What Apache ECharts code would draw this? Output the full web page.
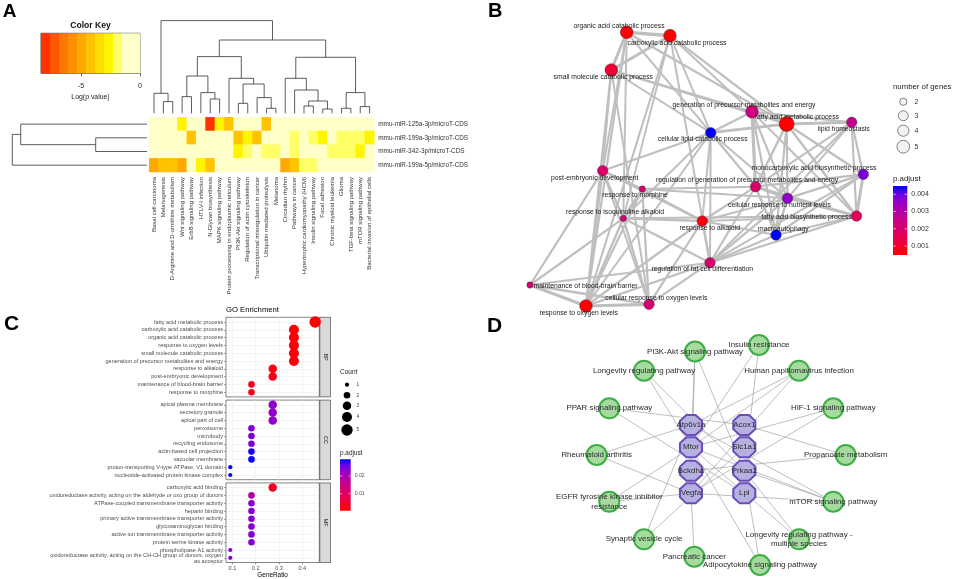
<!DOCTYPE html>
<html><head><meta charset="utf-8">
<script src="https://cdn.jsdelivr.net/npm/echarts@6/dist/echarts.min.js"></script>
<style>html,body{margin:0;padding:0;background:#fff}#c{width:955px;height:579px}</style>
</head><body><div id="c"></div>
<script>
// ================= DATA =================
// ---- Panel A: heatmap ----
const pathways = ['Basal cell carcinoma','Melanogenesis','D-Arginine and D-ornithine metabolism','Wnt signaling pathway','ErbB signaling pathway','HTLV-I infection','N-Glycan biosynthesis','MAPK signaling pathway','Protein processing in endoplasmic reticulum','PI3K-Akt signaling pathway','Regulation of actin cytoskeleton','Transcriptional misregulation in cancer','Ubiquitin mediated proteolysis','Melanoma','Circadian rhythm','Pathways in cancer','Hypertrophic cardiomyopathy (HCM)','Insulin signaling pathway','Focal adhesion','Chronic myeloid leukemia','Glioma','TGF-beta signaling pathway','mTOR signaling pathway','Bacterial invasion of epithelial cells'];
const mirnas = ['mmu-miR-125a-3p/microT-CDS','mmu-miR-199a-3p/microT-CDS','mmu-miR-342-3p/microT-CDS','mmu-miR-199a-5p/microT-CDS'];
const logP_miR125a3p = [-0.3,-0.3,-0.3,-2.6,-0.3,-0.3,-7.8,-2.6,-4.2,-0.3,-0.3,-0.3,-4.2,-0.3,-0.3,-0.3,-0.3,-0.3,-0.3,-0.3,-0.3,-0.3,-0.3,-0.3];
const logP_miR199a3p = [-0.3,-0.3,-0.3,-0.3,-4.2,-0.3,-0.3,-0.3,-0.3,-4.2,-2.6,-4.2,-0.3,-0.3,-0.3,-1.9,-0.3,-1.9,-2.6,-0.3,-1.9,-1.9,-1.9,-2.6];
const logP_miR342 = [-0.3,-0.3,-0.3,-0.3,-0.3,-0.3,-0.3,-0.3,-0.3,-2.6,-1.9,-0.3,-1.9,-1.9,-0.3,-1.9,-0.3,-0.3,-0.3,-1.9,-1.9,-1.9,-2.6,-0.3];
const logP_miR199a5p = [-5.0,-4.2,-4.2,-5.0,-0.3,-2.6,-4.2,-0.3,-0.3,-0.3,-0.3,-0.3,-0.3,-0.3,-5.0,-4.2,-1.9,-1.9,-0.3,-0.3,-0.3,-0.3,-0.3,-0.3];
const keyBreaks = [-8.4,-7.64,-6.87,-6.11,-5.35,-4.58,-3.82,-3.05,-2.29,-1.53,-0.76,0];
const keyTicks = [-5, 0];
// column dendrogram merges [a, b, height]; negative = leaf (column), positive = earlier merge
const colMerges = [[-2,-3,11.7],[-1,1,20],[-4,-5,16.7],[-7,-8,14.3],[-6,4,20.7],[3,5,37.3],[-10,-11,10],[-13,-14,5],[-12,8,15.7],[7,9,29.3],[-9,10,35],[6,11,56.7],[-17,-18,7.3],[-19,-20,4.3],[13,14,12.3],[-16,15,23.3],[-15,16,35],[-21,-22,5],[-23,-24,6.7],[18,19,20.7],[17,20,56],[12,21,73.3],[2,22,92.7]];
const rowMerges = [[-2,-3,51.3],[-1,1,126.3],[2,-4,134.7]];

// ---- Panel B: enrichment map ----
const bTerms = ['organic acid catabolic process','carboxylic acid catabolic process','small molecule catabolic process','generation of precursor metabolites and energy','fatty acid metabolic process','lipid homeostasis','cellular lipid catabolic process','post-embryonic development','response to morphine','regulation of generation of precursor metabolites and energy','monocarboxylic acid biosynthetic process','cellular response to nutrient levels','response to isoquinoline alkaloid','fatty acid biosynthetic process','response to alkaloid','macroautophagy','regulation of fat cell differentiation','maintenance of blood-brain barrier','cellular response to oxygen levels','response to oxygen levels'];
const bLayoutX = [146.7,190,131.3,272,306.7,371.7,230.7,122.7,162.3,275.5,383.3,307.5,143.3,376.5,222.3,296,230,50,169,106];
const bLayoutY = [32.3,35.7,70,111.7,124,122.3,132.7,170.7,189,186.7,174.3,198.3,218.3,216,221,235,262.7,285,304.3,306];
const bCount = [4,4,4,4,5,3,3,3,2,3,3,3,2,3,3,3,3,2,3,4];
const bPadj = [0.0005,0.0005,0.0011,0.0023,0.0005,0.0026,0.0045,0.0019,0.0019,0.0019,0.0039,0.0036,0.0021,0.0016,0.0006,0.0045,0.002,0.002,0.0021,0.0005];
const bEdges = [[0,1,1],[0,2,0.8],[1,2,0.8],[0,4,0.4],[1,4,0.4],[2,4,0.35],[0,6,0.3],[1,6,0.3],[2,6,0.3],[0,19,0.4],[1,19,0.35],[2,19,0.4],[0,7,0.3],[2,7,0.3],[0,12,0.3],[1,12,0.25],[1,16,0.3],[2,18,0.3],[1,3,0.3],[2,3,0.3],
[3,4,0.7],[3,6,0.5],[4,6,0.7],[4,5,0.8],[3,5,0.4],[3,9,0.9],[4,9,0.5],[4,10,0.5],[4,13,0.5],[4,11,0.4],[4,15,0.4],[3,11,0.4],[3,15,0.4],[3,13,0.3],
[5,10,0.4],[5,13,0.4],[5,11,0.3],[5,9,0.3],[5,16,0.3],[6,9,0.4],[6,11,0.3],[6,14,0.3],[6,16,0.3],[6,7,0.3],[6,12,0.3],
[10,13,0.8],[10,11,0.5],[10,9,0.4],[10,15,0.4],[10,16,0.3],[11,13,0.5],[11,9,0.6],[11,15,0.5],[13,15,0.4],[13,9,0.5],
[9,14,0.4],[9,15,0.5],[9,16,0.4],[9,8,0.3],[14,15,0.4],[14,16,0.5],[14,12,0.5],[14,8,0.5],[14,7,0.4],[14,19,0.4],[14,18,0.4],[14,11,0.3],[14,13,0.3],
[16,13,0.4],[16,15,0.4],[16,11,0.4],[16,19,0.4],[16,18,0.4],[16,12,0.4],[16,17,0.3],[12,8,0.8],[12,7,0.4],[12,19,0.5],[12,18,0.5],[12,17,0.4],[12,13,0.3],
[8,7,0.4],[8,19,0.4],[8,18,0.4],[8,11,0.3],[7,19,0.4],[7,17,0.4],[7,18,0.3],[17,19,0.8],[17,18,0.5],[18,19,0.9],[19,6,0.3]];
const bLegendCounts = [2,3,4,5];
const bPadjRange = [0.00048,0.00448];
const bPadjTicks = [0.001,0.002,0.003,0.004];

// ---- Panel C: GO dot plot ----
const bpTerms = ['fatty acid metabolic process','carboxylic acid catabolic process','organic acid catabolic process','response to oxygen levels','small molecule catabolic process','generation of precursor metabolites and energy','response to alkaloid','post-embryonic development','maintenance of blood-brain barrier','response to morphine'];
const bpRatio = [0.455,0.364,0.364,0.364,0.364,0.364,0.273,0.273,0.182,0.182];
const bpCount = [5,4,4,4,4,4,3,3,2,2];
const bpPadj = [0.0004,0.0008,0.0008,0.001,0.001,0.002,0.002,0.003,0.003,0.003];
const ccTerms = ['apical plasma membrane','secretory granule','apical part of cell','peroxisome','microbody','recycling endosome','actin-based cell projection','vacuolar membrane','proton-transporting V-type ATPase, V1 domain','nucleotide-activated protein kinase complex'];
const ccRatio = [0.273,0.273,0.273,0.182,0.182,0.182,0.182,0.182,0.091,0.091];
const ccCount = [3,3,3,2,2,2,2,2,1,1];
const ccPadj = [0.023,0.023,0.023,0.025,0.025,0.0252,0.0288,0.029,0.0292,0.0292];
const mfTerms = ['carboxylic acid binding','oxidoreductase activity, acting on the aldehyde or oxo group of donors','ATPase-coupled transmembrane transporter activity','heparin binding','primary active transmembrane transporter activity','glycosaminoglycan binding','active ion transmembrane transporter activity','protein serine kinase activity','phospholipase A1 activity','oxidoreductase activity, acting on the CH-CH group of donors, oxygen\nas acceptor'];
const mfRatio = [0.273,0.182,0.182,0.182,0.182,0.182,0.182,0.182,0.091,0.091];
const mfCount = [3,2,2,2,2,2,2,2,1,1];
const mfPadj = [0.004,0.018,0.0236,0.0236,0.0236,0.0236,0.0236,0.0236,0.0238,0.0242];
const geneRatioTicks = [0.1,0.2,0.3,0.4];
const geneRatioMinor = [0.15,0.25,0.35,0.45];
const rowSlots = [1,2,3,4,5,6,7,8,9,10];
const cPadjRange = [0.0004,0.0294];
const cPadjTicks = [0.01,0.02];
const cLegendCounts = [1,2,3,4,5];

// ---- Panel D: gene-pathway network ----
const dPathways = ['PI3K-Akt signaling pathway','Insulin resistance','Longevity regulating pathway','Human papillomavirus infection','PPAR signaling pathway','HIF-1 signaling pathway','Rheumatoid arthritis','Propanoate metabolism','EGFR tyrosine kinase inhibitor\nresistance','mTOR signaling pathway','Synaptic vesicle cycle','Longevity regulating pathway -\nmultiple species','Pancreatic cancer','Adipocytokine signaling pathway'];
const dPathX = [215,279,164,319,129.3,353.3,116.7,365.7,129.3,353.3,164,319,214.3,280];
const dPathY = [31.5,25,50.7,50.7,88.3,88.3,135,135,181.7,181.7,219.3,219.3,236.7,245];
const dGenes = ['Atp6v1a','Acox1','Mtor','Slc1a1','Bckdha','Prkaa2','Vegfa','Lpl'];
const dGeneX = [211,264.3,211,264.3,211,264.3,211,264.3];
const dGeneY = [105,105,127.3,127.3,150.7,150.7,173.3,173.3];
const dLinks = [[0,'Mtor'],[0,'Vegfa'],[0,'Prkaa2'],[1,'Mtor'],[1,'Prkaa2'],[2,'Mtor'],[2,'Prkaa2'],[3,'Atp6v1a'],[3,'Mtor'],[3,'Vegfa'],[4,'Acox1'],[4,'Lpl'],[5,'Mtor'],[5,'Vegfa'],[6,'Atp6v1a'],[6,'Vegfa'],[7,'Acox1'],[7,'Bckdha'],[8,'Mtor'],[8,'Vegfa'],[9,'Atp6v1a'],[9,'Mtor'],[9,'Prkaa2'],[9,'Vegfa'],[10,'Atp6v1a'],[10,'Slc1a1'],[11,'Mtor'],[11,'Prkaa2'],[12,'Vegfa'],[13,'Mtor'],[13,'Prkaa2']];

// ================= STYLE HELPERS =================
const FF = 'Liberation Sans';
const keyColors = ['#FF3300','#FF5500','#FF7700','#FF9100','#FFAA00','#FFC300','#FFDD00','#FFF500','#FFFF66','#FFFFC8','#FFFFC8'];
const padjStops = [[0,'#FF0000'],[0.25,'#E8004F'],[0.5,'#CA0088'],[0.75,'#9A00C3'],[0.875,'#7300E0'],[1,'#0000FF']];
function hex2rgb(h){return [parseInt(h.slice(1,3),16),parseInt(h.slice(3,5),16),parseInt(h.slice(5,7),16)];}
function padjColor(p, range){
  let t=(p-range[0])/(range[1]-range[0]); t=Math.max(0,Math.min(1,t));
  for(let i=1;i<padjStops.length;i++){
    if(t<=padjStops[i][0]){
      const t0=padjStops[i-1][0], t1=padjStops[i][0];
      const a=hex2rgb(padjStops[i-1][1]), b=hex2rgb(padjStops[i][1]); const u=(t-t0)/(t1-t0);
      return 'rgb('+a.map((v,k)=>Math.round(v+(b[k]-v)*u)).join(',')+')';
    }
  }
  return '#0000FF';
}
const bSize = {2:6.3,3:10.5,4:12.7,5:15};
const bLegendSize = {2:7.2,3:10,4:11.2,5:12.8};
const cSize = {1:4.2,2:6.6,3:8.5,4:10,5:11.4};
const bLabelOffset = [[-7.7,-6.6],[7,7],[-8,7.3],[-8,-6.4],[10.3,-7.3],[-8,7],[-8,6.6],[-8,7],[-7.3,6],[-8.4,-6.7],[-49.3,-6],[-8,6.7],[-8.3,-6.6],[-50,0.7],[7.4,6.7],[7.3,-6],[-7.7,6.6],[55.5,0.7],[7.3,-6.6],[-7.3,7.3]];
const octagon = 'path://M29.3,0L70.7,0L100,29.3L100,70.7L70.7,100L29.3,100L0,70.7L0,29.3Z';
const C_LABEL_SIZE = 5.6, C_LABEL_MARGIN = 3, C_LEFT = 226;

// ================= BUILD =================
const heatRows = [logP_miR125a3p, logP_miR199a3p, logP_miR342, logP_miR199a5p];
const heatData = [];
heatRows.forEach((row,r)=>row.forEach((v,c)=>heatData.push([c,r,v])));

function dendroSegments(merges){
  const pos=[], ht=[], segs=[];
  merges.forEach(m=>{
    const a=m[0], b=m[1], h=m[2];
    const pa = a<0 ? -a-0.5 : pos[a-1], ha = a<0 ? 0 : ht[a-1];
    const pb = b<0 ? -b-0.5 : pos[b-1], hb = b<0 ? 0 : ht[b-1];
    segs.push([pa,ha,pa,h],[pa,h,pb,h],[pb,hb,pb,h]);
    pos.push((pa+pb)/2); ht.push(h);
  });
  return segs;
}
const colSegs = dendroSegments(colMerges);
const rowSegs = dendroSegments(rowMerges);

function lineItem(a,b){return {type:'line',shape:{x1:a[0],y1:a[1],x2:b[0],y2:b[1]},style:{stroke:'#333',lineWidth:0.8}};}

function colorbarSeries(xi, yi, range, ticks){
  return {type:'custom', xAxisIndex:xi, yAxisIndex:yi, data:[[0,range[0]]], silent:true,
    renderItem:(p,api)=>{
      const a=api.coord([0,range[0]]), b=api.coord([1,range[1]]);
      const x=a[0], y=b[1], w=b[0]-a[0], h=a[1]-b[1];
      const ch=[{type:'rect',shape:{x:x,y:y,width:w,height:h},style:{fill:{type:'linear',x:0,y:1,x2:0,y2:0,colorStops:padjStops.map(s=>({offset:s[0],color:s[1]}))}}}];
      ticks.forEach(v=>{const yy=api.coord([0,v])[1];
        ch.push({type:'line',shape:{x1:x,y1:yy,x2:x+w*0.2,y2:yy},style:{stroke:'#fff',lineWidth:0.6}});
        ch.push({type:'line',shape:{x1:x+w*0.8,y1:yy,x2:x+w,y2:yy},style:{stroke:'#fff',lineWidth:0.6}});});
      return {type:'group',children:ch};
    }};
}

function cScatter(gi, ratio, count, padj){
  return {type:'scatter', xAxisIndex:gi, yAxisIndex:gi, silent:true, clip:false,
    data: ratio.map((r,i)=>[r, i+1, padj[i], count[i]]),
    symbolSize: v=>cSize[v[3]],
    itemStyle:{color: p=>padjColor(p.value[2], cPadjRange), opacity:1}};
}
function cXAxis(gi, bottom){
  return {type:'value', gridIndex:gi, min:0.0727, max:0.4727,
    axisLine:{show:false},
    axisTick:{show:bottom, length:1.8, customValues:geneRatioTicks, lineStyle:{color:'#333',width:0.5}},
    axisLabel:{show:bottom, customValues:geneRatioTicks, fontSize:5.6, color:'#4D4D4D', margin:2.5, fontFamily:FF},
    splitLine:{show:true, lineStyle:{color:'#EBEBEB',width:0.6}},
    name: bottom ? 'GeneRatio' : '', nameLocation:'middle', nameGap:8.5, nameTextStyle:{fontSize:6.4,color:'#000',fontFamily:FF}};
}
function cMinorX(gi){
  return {type:'value', gridIndex:gi, position:'top', min:0.0727, max:0.4727,
    axisLine:{show:false}, axisTick:{show:false, customValues:geneRatioMinor}, axisLabel:{show:false},
    splitLine:{show:true, lineStyle:{color:'#F2F2F2',width:0.35}}};
}
// multi-line term labels are drawn separately (below) so the axis never hides a neighbour
function cYAxis(gi, terms){
  const labelSlots = rowSlots.filter(s=>terms[s-1].indexOf('\n')<0);
  return {type:'value', gridIndex:gi, min:0.4, max:10.6, inverse:true,
    axisLine:{show:false},
    axisTick:{show:true, length:1.8, customValues:rowSlots, lineStyle:{color:'#333',width:0.5}},
    axisLabel:{customValues:labelSlots, showMinLabel:true, showMaxLabel:true,
      formatter:v=>terms[Math.round(v)-1]||'', fontSize:C_LABEL_SIZE, color:'#4D4D4D', margin:C_LABEL_MARGIN, fontFamily:FF},
    splitLine:{show:true, lineStyle:{color:'#EBEBEB',width:0.6}}};
}

const bNodes = bTerms.map((t,i)=>({name:t, value:[bLayoutX[i], bLayoutY[i]], symbolSize:bSize[bCount[i]],
  itemStyle:{color:padjColor(bPadj[i], bPadjRange), borderColor:'#3a3a3a', borderWidth:0.5},
  label:{offset:bLabelOffset[i]}}));
const bLinks = bEdges.map(e=>({source:e[0], target:e[1], lineStyle:{width:1.4+2*e[2]}}));

const dNodes = dPathways.map((t,i)=>({name:t, value:[dPathX[i], dPathY[i]], symbol:'circle', symbolSize:20,
  itemStyle:{color:'#A6DBA0', borderColor:'#3EAD45', borderWidth:2}}))
  .concat(dGenes.map((g,i)=>({name:g, value:[dGeneX[i], dGeneY[i]], symbol:octagon, symbolSize:[22,20],
  itemStyle:{color:'#B7B1E2', borderColor:'#6A4DB8', borderWidth:2}})));
const dLinkData = dLinks.map(l=>({source:l[0], target:dPathways.length+dGenes.indexOf(l[1])}));

const noBounds = {outerBoundsMode:'none', containLabel:false};
const grids = [
  {left:149.3, top:117.3, width:225, height:54.7},
  {left:149.3, top:20, width:225, height:93.3},
  {left:10, top:117.3, width:137, height:54.7},
  {left:41, top:33.3, width:99, height:40, show:true, borderColor:'#222', borderWidth:0.8},
  {left:C_LEFT, top:317.3, width:93.3, height:79.6, show:true, borderColor:'#333', borderWidth:0.6, backgroundColor:'#fff'},
  {left:C_LEFT, top:400.1, width:93.3, height:79.6, show:true, borderColor:'#333', borderWidth:0.6, backgroundColor:'#fff'},
  {left:C_LEFT, top:482.9, width:93.3, height:79.6, show:true, borderColor:'#333', borderWidth:0.6, backgroundColor:'#fff'},
  {left:340, top:459.3, width:10.7, height:51.4},
  {left:480, top:0, width:475, height:320},
  {left:893, top:186, width:14.3, height:69},
  {left:480, top:320, width:475, height:259}
].map(g=>Object.assign({}, noBounds, g));

const xAxes = [
  {type:'category', gridIndex:0, data:pathways, axisLine:{show:false}, axisTick:{show:false}, splitLine:{show:false},
    axisLabel:{interval:0, rotate:90, fontSize:6, color:'#333', margin:5, fontFamily:FF}},
  {type:'value', gridIndex:1, min:0, max:24, show:false},
  {type:'value', gridIndex:2, min:0, max:137, inverse:true, show:false},
  {type:'value', gridIndex:3, min:-8.4, max:0, axisLine:{show:false}, splitLine:{show:false},
    axisTick:{show:true, length:3, customValues:keyTicks, lineStyle:{color:'#222',width:0.7}},
    axisLabel:{customValues:keyTicks, showMinLabel:true, showMaxLabel:true, fontSize:7, color:'#222', margin:9.5, fontFamily:FF},
    name:'Log(p value)', nameLocation:'middle', nameGap:20, nameTextStyle:{fontSize:6.9, color:'#222', fontFamily:FF}},
  cXAxis(4,false), cXAxis(5,false), cXAxis(6,true),
  cMinorX(4), cMinorX(5), cMinorX(6),
  {type:'value', gridIndex:7, min:0, max:1, show:false},
  {type:'value', gridIndex:8, min:0, max:475, show:false},
  {type:'value', gridIndex:9, min:0, max:1, show:false},
  {type:'value', gridIndex:10, min:0, max:475, show:false}
];
const yAxes = [
  {type:'category', gridIndex:0, data:mirnas, inverse:true, position:'right', axisLine:{show:false}, axisTick:{show:false}, splitLine:{show:false},
    axisLabel:{interval:0, fontSize:6.4, color:'#333', margin:4, fontFamily:FF}},
  {type:'value', gridIndex:1, min:0, max:93.3, show:false},
  {type:'value', gridIndex:2, min:0, max:4, inverse:true, show:false},
  {type:'value', gridIndex:3, min:0, max:1, show:false},
  cYAxis(4,bpTerms), cYAxis(5,ccTerms), cYAxis(6,mfTerms),
  {type:'value', gridIndex:7, min:cPadjRange[0], max:cPadjRange[1], position:'right', axisLine:{show:false}, axisTick:{show:false, customValues:cPadjTicks}, splitLine:{show:false},
    axisLabel:{customValues:cPadjTicks, formatter:v=>v.toFixed(2), fontSize:5.1, color:'#4D4D4D', margin:4, fontFamily:FF}},
  {type:'value', gridIndex:8, min:0, max:320, inverse:true, show:false},
  {type:'value', gridIndex:9, min:bPadjRange[0], max:bPadjRange[1], position:'right', axisLine:{show:false}, axisTick:{show:false, customValues:bPadjTicks}, splitLine:{show:false},
    axisLabel:{customValues:bPadjTicks, formatter:v=>v.toFixed(3), fontSize:7, color:'#333', margin:4, fontFamily:FF}},
  {type:'value', gridIndex:10, min:0, max:259, inverse:true, show:false}
];

const series = [
  {type:'heatmap', xAxisIndex:0, yAxisIndex:0, data:heatData, silent:true, emphasis:{disabled:true}, itemStyle:{borderWidth:0}},
  {type:'custom', xAxisIndex:1, yAxisIndex:1, data:colSegs, silent:true,
    renderItem:(p,api)=>lineItem(api.coord([api.value(0),api.value(1)]), api.coord([api.value(2),api.value(3)]))},
  {type:'custom', xAxisIndex:2, yAxisIndex:2, data:rowSegs, silent:true,
    renderItem:(p,api)=>lineItem(api.coord([api.value(1),api.value(0)]), api.coord([api.value(3),api.value(2)]))},
  {type:'custom', xAxisIndex:3, yAxisIndex:3, silent:true,
    data:keyColors.map((c,i)=>[keyBreaks[i], keyBreaks[i+1], i]),
    renderItem:(p,api)=>{const a=api.coord([api.value(0),0]), b=api.coord([api.value(1),1]);
      return {type:'rect', shape:{x:a[0], y:b[1], width:b[0]-a[0]+0.3, height:a[1]-b[1]}, style:{fill:keyColors[api.value(2)]}};}},
  cScatter(4,bpRatio,bpCount,bpPadj), cScatter(5,ccRatio,ccCount,ccPadj), cScatter(6,mfRatio,mfCount,mfPadj),
  colorbarSeries(10,7,cPadjRange,cPadjTicks),
  {type:'graph', layout:'none', coordinateSystem:'cartesian2d', xAxisIndex:11, yAxisIndex:8, silent:true,
    data:bNodes, links:bLinks, emphasis:{disabled:true},
    lineStyle:{color:'#BFBFBF', opacity:1, curveness:0},
    label:{show:true, position:'inside', fontSize:6.8, color:'#222', fontFamily:FF}},
  colorbarSeries(12,9,bPadjRange,bPadjTicks),
  {type:'graph', layout:'none', coordinateSystem:'cartesian2d', xAxisIndex:13, yAxisIndex:10, silent:true,
    data:dNodes, links:dLinkData, emphasis:{disabled:true},
    lineStyle:{color:'#A3A3A3', opacity:1, width:0.7, curveness:0},
    label:{show:true, position:'inside', fontSize:7.9, color:'#2a2a2a', lineHeight:9.6, fontFamily:FF}}
];

function txt(x,y,text,size,opt){return Object.assign({type:'text', x:x, y:y, silent:true, style:Object.assign({text:text, fontSize:size, fontFamily:FF, fill:'#222', verticalAlign:'middle', align:'left'}, opt||{})});}
const graphic = [
  txt(2.7,11.7,'A',19,{fontWeight:'bold',fill:'#000'}),
  txt(488,11.2,'B',20,{fontWeight:'bold',fill:'#000'}),
  txt(4,324.2,'C',21,{fontWeight:'bold',fill:'#000'}),
  txt(487,325.8,'D',21,{fontWeight:'bold',fill:'#000'}),
  txt(90.5,26,'Color Key',8.6,{fontWeight:'bold',align:'center',fill:'#111'}),
  txt(893,87.3,'number of genes',7.8),
  txt(893,179,'p.adjust',7.9),
  txt(226,310.3,'GO Enrichment',7.7,{fill:'#000'}),
  txt(340,372.7,'Count',6.5),
  txt(340,453.3,'p.adjust',6.4)
];
const bLegY = [101.7,115.7,130.7,146.7];
bLegendCounts.forEach((c,i)=>{
  graphic.push({type:'circle', silent:true, shape:{cx:903.3, cy:bLegY[i], r:bLegendSize[c]/2}, style:{fill:'#F2F2F2', stroke:'#333', lineWidth:0.6}});
  graphic.push(txt(914.5,bLegY[i],String(c),7,{fill:'#333'}));
});
const cLegY = [384.7,395.3,405.7,417,430];
cLegendCounts.forEach((c,i)=>{
  graphic.push({type:'circle', silent:true, shape:{cx:347, cy:cLegY[i], r:cSize[c]/2}, style:{fill:'#000'}});
  graphic.push(txt(356.5,cLegY[i],String(c),4.6,{fill:'#333'}));
});
[['BP',317.3],['CC',400.1],['MF',482.9]].forEach(s=>{
  graphic.push({type:'rect', silent:true, shape:{x:319.8, y:s[1], width:10.7, height:79.6}, style:{fill:'#D9D9D9', stroke:'#333', lineWidth:0.6}});
  graphic.push({type:'text', silent:true, x:325.15, y:s[1]+39.8, rotation:-Math.PI/2, style:{text:s[0], fontSize:5.4, fontFamily:FF, fill:'#1A1A1A', align:'center', verticalAlign:'middle'}});
});

const option = {
  animation:false, backgroundColor:'#fff', textStyle:{fontFamily:FF},
  grid:grids, xAxis:xAxes, yAxis:yAxes,
  visualMap:[{type:'piecewise', show:false, seriesIndex:0, dimension:2,
    pieces:keyColors.map((c,i)=>({gte:keyBreaks[i], lt:keyBreaks[i+1]+(i===keyColors.length-1?0.001:0), color:c}))}],
  series:series, graphic:graphic
};
const chart = echarts.init(document.getElementById('c'), null, {width:955, height:579});
chart.setOption(option);

// multi-line y labels of panel C placed through the axis scale
[[4,bpTerms],[5,ccTerms],[6,mfTerms]].forEach(([yi,terms])=>{
  terms.forEach((t,k)=>{
    if(t.indexOf('\n')<0) return;
    const y = chart.convertToPixel({yAxisIndex:yi}, k+1);
    graphic.push({type:'text', silent:true, x:C_LEFT-C_LABEL_MARGIN, y:y+0.6,
      style:{text:t, fontSize:C_LABEL_SIZE, lineHeight:6.5, fontFamily:FF, fill:'#4D4D4D', align:'right', verticalAlign:'middle'}});
  });
});
chart.setOption({graphic:graphic}, {replaceMerge:['graphic']});
</script></body></html>
